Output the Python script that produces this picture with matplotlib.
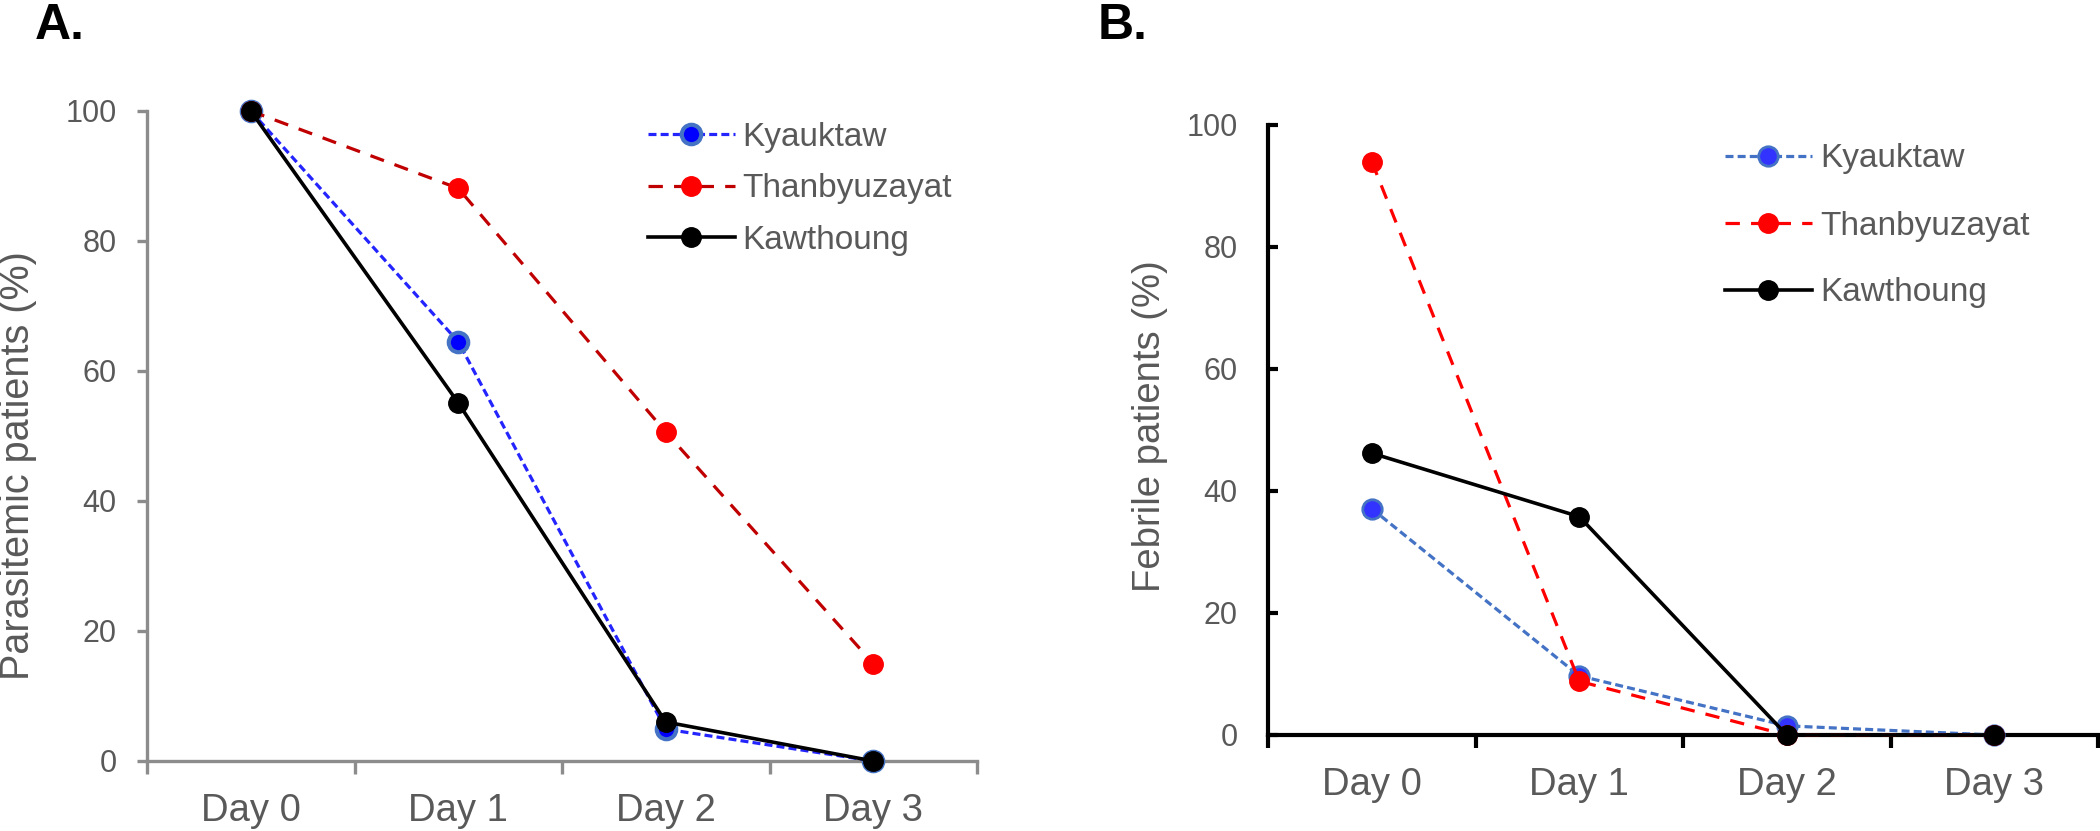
import matplotlib
matplotlib.use("Agg")
import matplotlib.pyplot as plt

days = ["Day 0", "Day 1", "Day 2", "Day 3"]
sites = ["Kyauktaw", "Thanbyuzayat", "Kawthoung"]

# Panel A: parasitemic patients (%)
para_kyauktaw = [100, 64.5, 4.9, 0]
para_thanbyuzayat = [100, 88.1, 50.6, 15.0]
para_kawthoung = [100, 55.1, 6.0, 0]

# Panel B: febrile patients (%)
feb_kyauktaw = [37.1, 9.7, 1.5, 0]
feb_thanbyuzayat = [94.0, 8.8, 0, 0]
feb_kawthoung = [46.2, 35.8, 0, 0]

plt.rcParams['font.family'] = ['Liberation Sans', 'DejaVu Sans']
GRAY = '#595959'

W, H = 2100, 831
fig = plt.figure(figsize=(W / 100, H / 100), dpi=100)

def frac(l, r, t, b):
    return [l / W, (H - b) / H, (r - l) / W, (b - t) / H]

axA = fig.add_axes(frac(147, 977, 111, 761))
axB = fig.add_axes(frac(1268, 2098, 125, 735))

x = list(range(len(days)))

styleA = [
    dict(color='#2424FF', ls=(0, (2.5, 1.3)), mfc='#0000FF', mec='#4472C4', mew=3, lw=2.3),
    dict(color='#C00000', ls=(0, (4.5, 3.5)), mfc='#FF0000', mec='#FF0000', mew=1, lw=2.3),
    dict(color='black', ls='-', mfc='black', mec='black', mew=1, lw=2.6),
]
styleB = [
    dict(color='#4472C4', ls=(0, (2.5, 1.3)), mfc='#3333FF', mec='#4472C4', mew=2, lw=2.3),
    dict(color='#FF0000', ls=(0, (4.5, 3.5)), mfc='#FF0000', mec='#FF0000', mew=1, lw=2.3),
    dict(color='black', ls='-', mfc='black', mec='black', mew=1, lw=2.6),
]

def draw(ax, series, styles, spine_color, spine_w, ytick_dir, ypad):
    handles = []
    for vals, st, name in zip(series, styles, sites):
        h, = ax.plot(x, vals, color=st['color'], linestyle=st['ls'], lw=st['lw'],
                     marker='o', ms=14, mfc=st['mfc'], mec=st['mec'], mew=st['mew'],
                     clip_on=False, zorder=3, label=name)
        handles.append(h)
    ax.set_xlim(-0.5, 3.5)
    ax.set_ylim(0, 100)
    ax.set_yticks([0, 20, 40, 60, 80, 100])
    ax.set_xticks([-0.5, 0.5, 1.5, 2.5, 3.5])
    ax.set_xticklabels([])
    ax.set_xticks(x, minor=True)
    ax.set_xticklabels(days, minor=True)
    for s in ['top', 'right']:
        ax.spines[s].set_visible(False)
    for s in ['left', 'bottom']:
        ax.spines[s].set_color(spine_color)
        ax.spines[s].set_linewidth(spine_w)
    ax.tick_params(axis='y', which='major', direction=ytick_dir, length=7, width=spine_w,
                   color=spine_color, labelcolor=GRAY, labelsize=22, pad=ypad)
    ax.tick_params(axis='x', which='major', direction='out', length=9, width=spine_w,
                   color=spine_color)
    ax.tick_params(axis='x', which='minor', length=0, labelcolor=GRAY,
                   labelsize=27.5, pad=23)
    return handles

hA = draw(axA, [para_kyauktaw, para_thanbyuzayat, para_kawthoung], styleA,
          '#8C8C8C', 2.4, 'out', 15)
hB = draw(axB, [feb_kyauktaw, feb_thanbyuzayat, feb_kawthoung], styleB,
          'black', 3.0, 'in', 22)

fig.text(18 / W, 1 - 466 / H, 'Parasitemic patients (%)', rotation=90,
         ha='center', va='center', fontsize=28.5, color=GRAY)
fig.text(1150 / W, 1 - 426 / H, 'Febrile patients (%)', rotation=90,
         ha='center', va='center', fontsize=27.5, color=GRAY)

legA = axA.legend(handles=hA, loc='center left', bbox_to_anchor=(648 / W, 1 - 189 / H),
                  bbox_transform=fig.transFigure, frameon=False, fontsize=24,
                  handlelength=2.6, handletextpad=0.24, labelspacing=0.62,
                  borderaxespad=0, borderpad=0)
for t in legA.get_texts():
    t.set_color(GRAY)
legB = axB.legend(handles=hB, loc='center left', bbox_to_anchor=(1725 / W, 1 - 226 / H),
                  bbox_transform=fig.transFigure, frameon=False, fontsize=24,
                  handlelength=2.6, handletextpad=0.27, labelspacing=1.08,
                  borderaxespad=0, borderpad=0)
for t in legB.get_texts():
    t.set_color(GRAY)

fig.text(35 / W, 1 - 3 / H, 'A.', fontsize=36, fontweight='bold', ha='left', va='top')
fig.text(1098 / W, 1 - 3 / H, 'B.', fontsize=36, fontweight='bold', ha='left', va='top')

fig.savefig('out.png', dpi=100)
